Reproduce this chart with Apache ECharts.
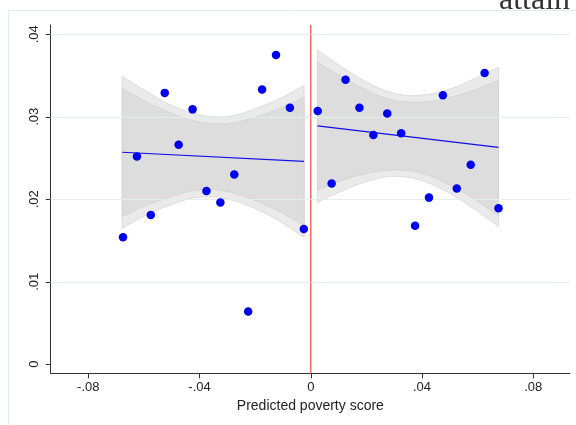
<!DOCTYPE html>
<html><head><meta charset="utf-8">
<script src="https://cdn.jsdelivr.net/npm/echarts@6/dist/echarts.min.js"></script>
<style>html,body{margin:0;padding:0;background:#fff}#c{width:576px;height:425px}</style>
</head><body><div id="c"></div>
<script>
// Binned scatter points
const xLeft  = [-0.0675,-0.0625,-0.0575,-0.0525,-0.0475,-0.0425,-0.0375,-0.0325,-0.0275,-0.0225,-0.0175,-0.0125,-0.0075,-0.0025];
const yLeft  = [0.0154,0.0252,0.0181,0.0329,0.0266,0.0309,0.0210,0.0196,0.0230,0.0064,0.0333,0.0375,0.0311,0.0164];
const xRight = [0.0025,0.0075,0.0125,0.0175,0.0225,0.0275,0.0325,0.0375,0.0425,0.0475,0.0525,0.0575,0.0625,0.0675];
const yRight = [0.0307,0.0219,0.0345,0.0311,0.0278,0.0304,0.0280,0.0168,0.0202,0.0326,0.0213,0.0242,0.0353,0.0189];

// Linear fits
const fitLeftX  = [-0.0678,-0.0024];
const fitLeftY  = [0.0257,0.0246];
const fitRightX = [0.0024,0.0675];
const fitRightY = [0.0289,0.0263];

// Confidence bands
const bandLeftX = [-0.0678,-0.0596,-0.0513,-0.0430,-0.0351,-0.0272,-0.0189,-0.0106,-0.0024];
const outerUpL  = [0.0349,0.0332,0.0316,0.0305,0.0300,0.0302,0.0311,0.0323,0.0338];
const outerLoL  = [0.0165,0.0180,0.0192,0.0201,0.0203,0.0198,0.0187,0.0172,0.0154];
const innerUpL  = [0.0335,0.0319,0.0306,0.0296,0.0292,0.0293,0.0301,0.0311,0.0324];
const innerLoL  = [0.0179,0.0192,0.0202,0.0210,0.0212,0.0207,0.0197,0.0184,0.0168];

const bandRightX = [0.0024,0.0105,0.0186,0.0267,0.0340,0.0415,0.0495,0.0575,0.0675];
const outerUpR   = [0.0381,0.0362,0.0345,0.0332,0.0326,0.0327,0.0333,0.0344,0.0360];
const outerLoR   = [0.0196,0.0209,0.0220,0.0227,0.0227,0.0221,0.0208,0.0191,0.0167];
const innerUpR   = [0.0366,0.0350,0.0335,0.0323,0.0318,0.0318,0.0323,0.0331,0.0344];
const innerLoR   = [0.0211,0.0222,0.0230,0.0235,0.0235,0.0230,0.0218,0.0203,0.0180];

// Axes
const xTicks = [-0.08,-0.04,0,0.04,0.08];
const yTicks = [0,0.01,0.02,0.03,0.04];
const yGrid  = [0.01,0.02,0.03,0.04];
const xMin = -0.0935, xMax = 0.0932, yMin = -0.0011, yMax = 0.04113;
const cutoff = 0;

function fmt(v){ if (Math.abs(v) < 1e-12) return '0'; return (v<0?'-':'') + Math.abs(v).toFixed(2).replace(/^0/,''); }

function smoothPts(pts, seg){
  const out=[];
  for(let i=0;i<pts.length-1;i++){
    const p0=pts[Math.max(i-1,0)], p1=pts[i], p2=pts[i+1], p3=pts[Math.min(i+2,pts.length-1)];
    for(let s=0;s<seg;s++){
      const t=s/seg, t2=t*t, t3=t2*t;
      const f=k=>0.5*((2*p1[k])+(-p0[k]+p2[k])*t+(2*p0[k]-5*p1[k]+4*p2[k]-p3[k])*t2+(-p0[k]+3*p1[k]-3*p2[k]+p3[k])*t3);
      out.push([f(0),f(1)]);
    }
  }
  out.push(pts[pts.length-1]);
  return out;
}
function bandPoly(api, xs, up, lo){
  const u = smoothPts(xs.map((x,i)=>api.coord([x,up[i]])), 10);
  const l = smoothPts(xs.map((x,i)=>api.coord([x,lo[i]])), 10).reverse();
  return u.concat(l);
}
function bandSeries(xs, oU, oL, iU, iL){
  return {
    type:'custom', z:1, silent:true, data:[0],
    renderItem:(params, api)=>({
      type:'group',
      children:[
        {type:'polygon', shape:{points:bandPoly(api,xs,oU,oL)}, style:{fill:'#eaeaea', stroke:'#d6d6d6', lineWidth:0.8}},
        {type:'polygon', shape:{points:bandPoly(api,xs,iU,iL)}, style:{fill:'#dddddd', stroke:'#d2d2d2', lineWidth:0.8}}
      ]
    })
  };
}

const chart = echarts.init(document.getElementById('c'), null, {renderer:'canvas'});
const axisFont = '"Liberation Sans", Arial, sans-serif';
chart.setOption({
  animation:false,
  backgroundColor:'#ffffff',
  grid:{left:50.7, right:6, top:25, bottom:51.7, containLabel:false},
  graphic:[
    {type:'rect', silent:true, shape:{x:8.5, y:10.5, width:700, height:500}, style:{fill:'none', stroke:'#e3e8e8', lineWidth:1}},
    {type:'text', silent:true, x:499, y:-15, style:{text:'attain', font:'32px "Liberation Serif", serif', fill:'#333'}}
  ],
  xAxis:{
    type:'value', min:xMin, max:xMax,
    name:'Predicted poverty score', nameLocation:'middle', nameGap:25,
    nameTextStyle:{fontFamily:axisFont, fontSize:14, color:'#222'},
    axisLine:{show:true, onZero:false, lineStyle:{color:'#333', width:1}},
    axisTick:{show:true, length:5, customValues:xTicks, lineStyle:{color:'#333'}},
    axisLabel:{customValues:xTicks, formatter:fmt, margin:8, fontFamily:axisFont, fontSize:13, color:'#222'},
    splitLine:{show:false}
  },
  yAxis:{
    type:'value', min:yMin, max:yMax,
    axisLine:{show:true, onZero:false, lineStyle:{color:'#333', width:1}},
    axisTick:{show:true, length:5, customValues:yTicks, lineStyle:{color:'#333'}},
    axisLabel:{customValues:yTicks, formatter:fmt, rotate:90, margin:10, fontFamily:axisFont, fontSize:13, color:'#222'},
    splitLine:{show:false}
  },
  series:[
    {type:'line', z:0, data:[], silent:true,
     markLine:{silent:true, symbol:'none', label:{show:false}, lineStyle:{color:'#e6eded', width:1, type:'solid'},
       data: yGrid.map(v=>({yAxis:v}))}},
    bandSeries(bandLeftX, outerUpL, outerLoL, innerUpL, innerLoL),
    bandSeries(bandRightX, outerUpR, outerLoR, innerUpR, innerLoR),
    {type:'line', z:3, symbol:'none', silent:true, lineStyle:{color:'#1010e8', width:1.2},
     data: fitLeftX.map((x,i)=>[x,fitLeftY[i]])},
    {type:'line', z:3, symbol:'none', silent:true, lineStyle:{color:'#1010e8', width:1.2},
     data: fitRightX.map((x,i)=>[x,fitRightY[i]])},
    {type:'line', z:4, symbol:'none', silent:true, lineStyle:{color:'#f0584a', width:1.3},
     data: [[cutoff,yMin],[cutoff,yMax]]},
    {type:'scatter', z:5, symbolSize:8.5, itemStyle:{color:'#0000f0', opacity:1},
     data: xLeft.map((x,i)=>[x,yLeft[i]]).concat(xRight.map((x,i)=>[x,yRight[i]]))}
  ]
});
</script>
</body></html>
